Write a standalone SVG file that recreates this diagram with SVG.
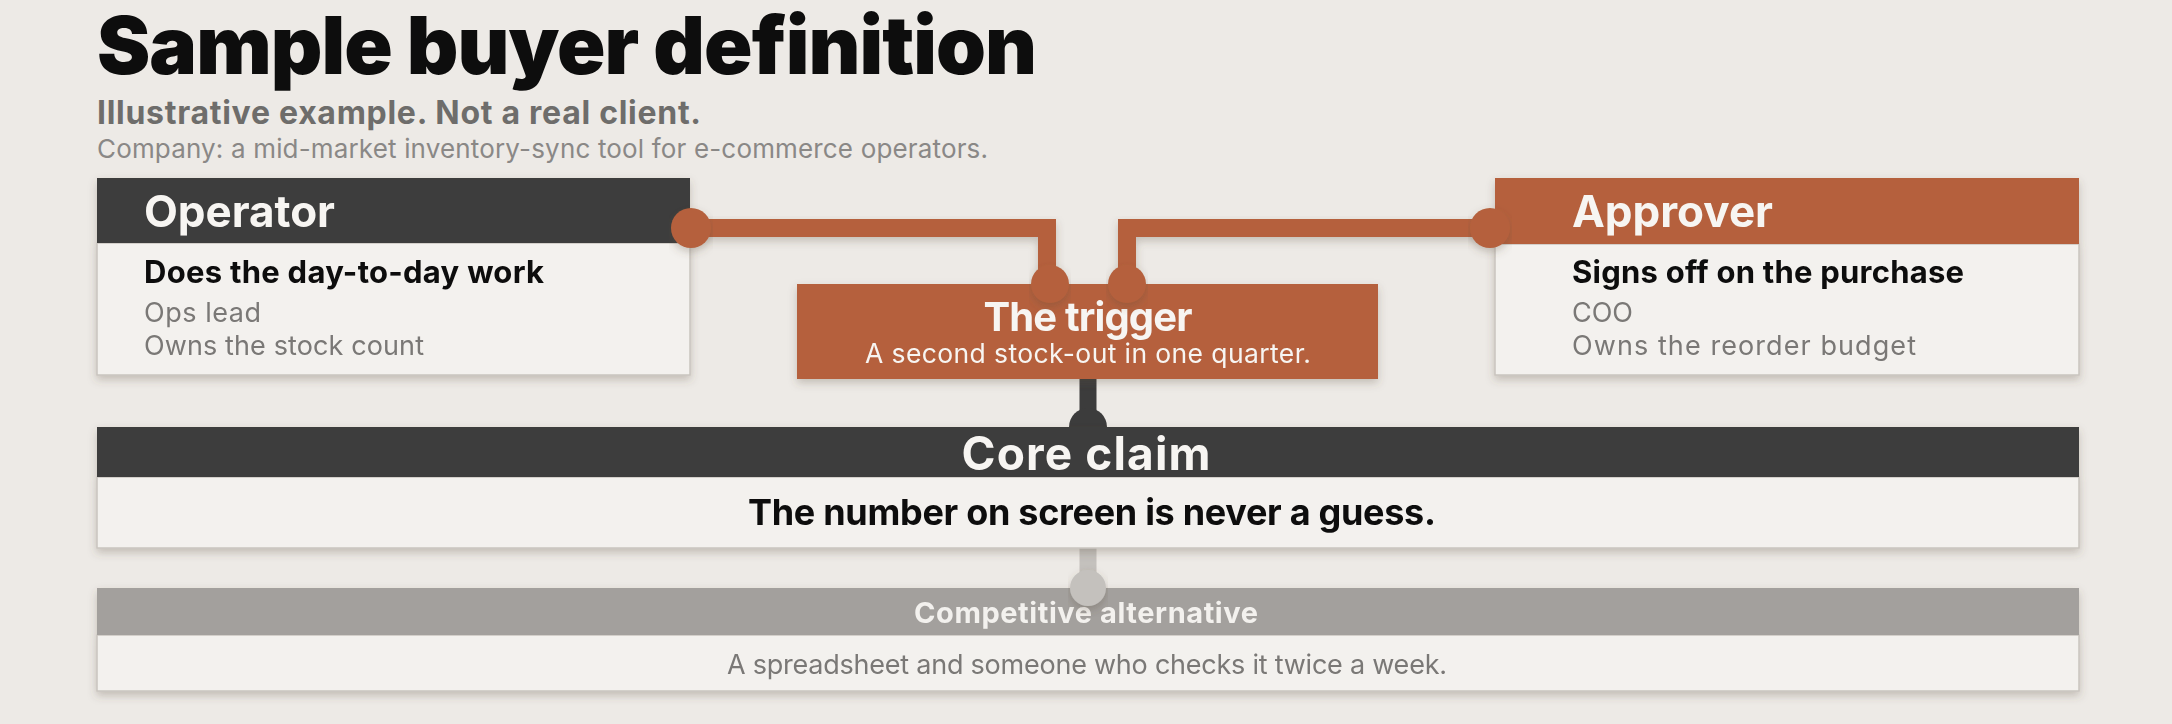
<svg xmlns="http://www.w3.org/2000/svg" width="2172" height="724" viewBox="0 0 2172 724">
  <defs>
    <style>
      .bg { fill: #edeae6; }
      .body { fill: #f3f1ee; stroke: #c9c4be; stroke-width: 1.5; }
      .hdr-dark { fill: #3c3c3c; }
      .hdr-copper { fill: #b5613d; }
      .hdr-gray { fill: #a3a09d; }
      .copper { fill: #b5613d; }
      .wire-copper { fill: none; stroke: #b5613d; stroke-width: 18; stroke-linejoin: miter; }
      .wire-dark { fill: none; stroke: #3c3c3c; stroke-width: 17; }
      .wire-gray { fill: none; stroke: #c4c1bd; stroke-width: 17; }
      text { font-family: Inter, "Noto Sans", "Liberation Sans", sans-serif; }
      .title { font-size: 80px; font-weight: 900; fill: #0d0d0d; }
      .subtitle { font-size: 32px; font-weight: 700; fill: #6e6d6b; }
      .company { font-size: 26px; font-weight: 400; fill: #8a8886; }
      .hdr { font-size: 44px; font-weight: 700; fill: #f7f5f2; }
      .lead { font-size: 31px; font-weight: 700; fill: #0d0d0d; }
      .line { font-size: 27px; font-weight: 400; fill: #7a7876; }
      .trig-sub { font-size: 26.5px; font-weight: 400; fill: #f7f5f2; }
      .claim { font-size: 36px; font-weight: 700; fill: #0d0d0d; }
      .alt-hdr { font-size: 29px; font-weight: 700; fill: #f3f1ee; }
      .alt-body { font-size: 27px; font-weight: 400; fill: #7a7876; }
    </style>
    <filter id="shadow" x="-5%" y="-20%" width="110%" height="150%">
      <feDropShadow dx="0" dy="4" stdDeviation="4" flood-color="#5a4a3a" flood-opacity="0.28"/>
    </filter>
  </defs>

  <rect class="bg" x="0" y="0" width="2172" height="724"/>

  <g id="heading">
    <text class="title" x="97" y="74" textLength="940">Sample buyer definition</text>
    <text class="subtitle" x="97" y="124" textLength="604">Illustrative example. Not a real client.</text>
    <text class="company" x="97" y="158" textLength="891">Company: a mid-market inventory-sync tool for e-commerce operators.</text>
  </g>

  <g id="connectors">
    <path class="wire-copper" d="M691,228 H1047 V284" filter="url(#shadow)"/>
    <path class="wire-copper" d="M1490,228 H1127 V284" filter="url(#shadow)"/>
    <path class="wire-dark" d="M1088,378 V427"/>
    <circle cx="1088" cy="427" r="19" fill="#3c3c3c"/>
    <path class="wire-gray" d="M1088,548 V588"/>
  </g>

  <g id="operator" filter="url(#shadow)">
    <rect class="body" x="97" y="243" width="593" height="132"/>
    <rect class="hdr-dark" x="97" y="178" width="593" height="65"/>
    <text class="hdr" x="144" y="227" textLength="191">Operator</text>
    <text class="lead" x="144" y="283" textLength="400">Does the day-to-day work</text>
    <text class="line" x="144" y="322" textLength="117">Ops lead</text>
    <text class="line" x="144" y="355" textLength="280">Owns the stock count</text>
  </g>

  <g id="approver" filter="url(#shadow)">
    <rect class="body" x="1495" y="244" width="584" height="131"/>
    <rect class="hdr-copper" x="1495" y="178" width="584" height="66"/>
    <text class="hdr" x="1572" y="227" textLength="201">Approver</text>
    <text class="lead" x="1572" y="283" textLength="392">Signs off on the purchase</text>
    <text class="line" x="1572" y="322">COO</text>
    <text class="line" x="1572" y="355" textLength="344">Owns the reorder budget</text>
  </g>

  <g id="trigger" filter="url(#shadow)">
    <rect class="hdr-copper" x="797" y="284" width="581" height="95"/>
    <text class="hdr" x="1088" y="331" text-anchor="middle" style="font-size:40px" textLength="209">The trigger</text>
    <text class="trig-sub" x="1088" y="363" text-anchor="middle" textLength="446">A second stock-out in one quarter.</text>
  </g>

  <g id="core-claim" filter="url(#shadow)">
    <rect class="body" x="97" y="477" width="1982" height="71"/>
    <rect class="hdr-dark" x="97" y="427" width="1982" height="50"/>
    <text class="hdr" x="1086" y="470" text-anchor="middle" style="font-size:46px" textLength="249">Core claim</text>
    <text class="claim" x="1092" y="525" text-anchor="middle" textLength="688">The number on screen is never a guess.</text>
  </g>

  <g id="competitive-alternative" filter="url(#shadow)">
    <rect class="body" x="97" y="635" width="1982" height="56"/>
    <rect class="hdr-gray" x="97" y="588" width="1982" height="47"/>
    <text class="alt-hdr" x="1086" y="623" text-anchor="middle" textLength="344">Competitive alternative</text>
    <text class="alt-body" x="1087" y="674" text-anchor="middle" textLength="720">A spreadsheet and someone who checks it twice a week.</text>
  </g>

  <g id="ports">
    <circle class="copper" cx="691" cy="228" r="20" filter="url(#shadow)"/>
    <circle class="copper" cx="1490" cy="228" r="20" filter="url(#shadow)"/>
    <circle class="copper" cx="1050" cy="284" r="19" filter="url(#shadow)"/>
    <circle class="copper" cx="1127" cy="284" r="19" filter="url(#shadow)"/>
    <circle cx="1088" cy="588" r="18" fill="#c4c1bd" filter="url(#shadow)"/>
  </g>
</svg>
